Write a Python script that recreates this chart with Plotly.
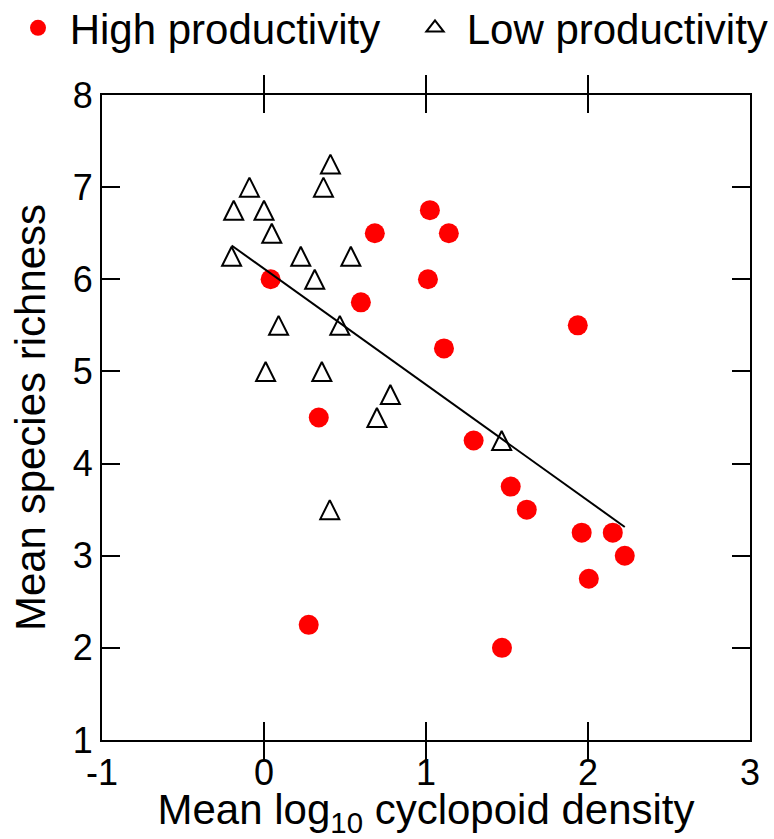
import numpy as np
import plotly.graph_objects as go

# Mean log10 cyclopoid density (x) and mean species richness (y) per pond
high_x = [1.024, 0.684, 1.141, 1.012, 0.041, 0.598, 1.937, 1.111, 0.338,
          1.294, 1.523, 1.622, 1.961, 2.153, 2.227, 2.005, 0.276, 1.469]
high_y = [6.75, 6.5, 6.5, 6.0, 6.0, 5.75, 5.5, 5.25, 4.5,
          4.25, 3.75, 3.5, 3.25, 3.25, 3.0, 2.75, 2.25, 2.0]

low_x = [0.41, 0.367, -0.09, -0.187, 0.0, 0.048, -0.2, 0.227, 0.536,
         0.313, 0.09, 0.468, 0.01, 0.357, 0.78, 0.697, 1.467, 0.406]
low_y = [7.25, 7.0, 7.0, 6.75, 6.75, 6.5, 6.25, 6.25, 6.25,
         6.0, 5.5, 5.5, 5.0, 5.0, 4.75, 4.5, 4.25, 3.5]

x_ticks = [-1, 0, 1, 2, 3]
y_ticks = [1, 2, 3, 4, 5, 6, 7, 8]

# Page geometry
W, H = 774, 839
M_L, M_R, M_T, M_B = 102, 24, 95, 99
PLOT_W = W - M_L - M_R
PLOT_H = H - M_T - M_B
X_RANGE = [-1, 3]
Y_RANGE = [1, 8]
FONT = "Liberation Sans, Arial, sans-serif"

# Least-squares line through all ponds, spanning the observed densities
all_x = np.array(high_x + low_x)
all_y = np.array(high_y + low_y)
slope, intercept = np.polyfit(all_x, all_y, 1)
fit_x = np.array([all_x.min(), all_x.max()])
fit_y = intercept + slope * fit_x

# The arrow-up symbol hangs below its anchor by half its size; anchor the
# triangles on a copy of the y scale shifted by that amount so each one is
# centred on its value.
TRI_SIZE = 19
px_per_unit = PLOT_H / (Y_RANGE[1] - Y_RANGE[0])
shift = (TRI_SIZE / 2) / px_per_unit


def paper_x(px):
    return (px - M_L) / PLOT_W


def paper_y(py):
    return 1 + (M_T - py) / PLOT_H


fig = go.Figure()
fig.add_trace(go.Scatter(
    x=high_x, y=high_y, mode="markers", name="\u00a0High productivity",
    marker=dict(symbol="circle", size=20, color="#ff0000", line=dict(width=0)),
    legend="legend",
))
fig.add_trace(go.Scatter(
    x=low_x, y=low_y, mode="markers", name="Low productivity",
    marker=dict(symbol="arrow-up-open", size=TRI_SIZE, color="black",
                line=dict(width=2, color="black")),
    yaxis="y2", showlegend=False,
))
# Legend key for the low-productivity ponds (centred triangle symbol)
fig.add_trace(go.Scatter(
    x=[None], y=[None], mode="markers", name="\u00a0Low productivity",
    marker=dict(symbol="triangle-up-open", size=15, color="black",
                line=dict(width=2, color="black")),
    legend="legend2", hoverinfo="skip",
))
fig.add_trace(go.Scatter(
    x=fit_x, y=fit_y, mode="lines", showlegend=False,
    line=dict(color="black", width=2),
))

axis_common = dict(
    showline=True, linecolor="black", linewidth=2, mirror="allticks",
    ticks="inside", ticklen=18, tickwidth=2, tickcolor="black",
    showgrid=False, zeroline=False,
    tickfont=dict(family=FONT, size=36, color="black"),
    title_font=dict(family=FONT, size=42, color="black"),
)

legend_common = dict(
    xref="paper", yref="paper", xanchor="left", yanchor="top",
    orientation="h", bgcolor="rgba(0,0,0,0)", borderwidth=0,
    font=dict(family=FONT, size=42, color="black"),
)

fig.update_layout(
    width=W, height=H,
    margin=dict(l=M_L, r=M_R, t=M_T, b=M_B, autoexpand=False),
    paper_bgcolor="white", plot_bgcolor="white",
    font=dict(family=FONT, color="black"),
    xaxis=dict(range=X_RANGE, tickvals=x_ticks, ticktext=[str(v) for v in x_ticks],
               title=dict(text="Mean log<sub>10</sub> cyclopoid density", standoff=8),
               **axis_common),
    yaxis=dict(range=Y_RANGE, tickvals=y_ticks, ticktext=[str(v) for v in y_ticks],
               title=dict(text="Mean species richness", standoff=14),
               **axis_common),
    yaxis2=dict(range=[Y_RANGE[0] - shift, Y_RANGE[1] - shift], overlaying="y",
                visible=False, showgrid=False, zeroline=False),
    legend=dict(x=paper_x(18), y=paper_y(-6), **legend_common),
    legend2=dict(x=paper_x(415), y=paper_y(-6), **legend_common),
)

fig.write_html("out.html")
